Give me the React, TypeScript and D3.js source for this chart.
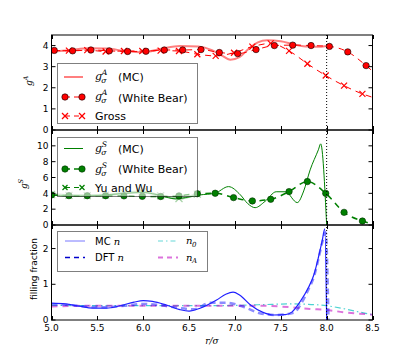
import * as d3 from "d3";

const W = 415;
const H = 356;

// r / sigma axis
const xTicks = [5.0, 5.5, 6.0, 6.5, 7.0, 7.5, 8.0, 8.5];

// top panel: g^A
const mcA: [number, number][] = [
  [5.0, 3.72], [5.2, 3.78], [5.4, 3.87], [5.6, 3.86], [5.8, 3.74], [6.0, 3.68], [6.2, 3.85],
  [6.4, 3.98], [6.6, 3.95], [6.75, 3.78], [6.85, 3.55], [6.95, 3.33], [7.05, 3.45], [7.15, 3.85],
  [7.25, 4.15], [7.35, 4.25], [7.5, 4.2], [7.65, 4.05], [7.8, 3.95], [7.9, 3.94], [8.0, 3.98],
];
const wbA: [number, number][] = [
  [5.03, 3.77], [5.23, 3.75], [5.43, 3.79], [5.63, 3.75], [5.83, 3.72], [6.03, 3.73], [6.23, 3.79],
  [6.43, 3.79], [6.63, 3.81], [6.83, 3.67], [7.03, 3.62], [7.23, 3.81], [7.43, 4.0], [7.63, 4.02],
  [7.83, 4.0], [8.03, 3.96], [8.23, 3.7], [8.43, 3.05],
];
const wbATail: [number, number][] = [[8.43, 3.05], [8.5, 2.79]];
const grossA: [number, number][] = [
  [5.19, 3.76], [5.39, 3.78], [5.59, 3.72], [5.79, 3.74], [5.99, 3.74], [6.19, 3.76], [6.39, 3.74],
  [6.59, 3.59], [6.79, 3.51], [6.99, 3.66], [7.19, 3.95], [7.39, 4.1], [7.59, 3.75], [7.79, 3.14],
  [7.99, 2.58], [8.19, 2.1], [8.39, 1.71],
];
const grossEnds: [number, number][] = [[5.0, 3.75], [8.5, 1.55]];

// middle panel: g^S
const mcS: [number, number][] = [
  [5.0, 3.8], [5.2, 3.65], [5.5, 3.72], [5.8, 4.0], [6.0, 4.1], [6.2, 3.7], [6.35, 3.3],
  [6.5, 3.55], [6.62, 3.8], [6.78, 4.0], [6.93, 4.85], [7.06, 3.8], [7.14, 2.7], [7.22, 2.19],
  [7.33, 3.0], [7.45, 4.2], [7.55, 4.2], [7.68, 2.83], [7.75, 4.3], [7.82, 6.96], [7.91, 9.5],
  [7.935, 10.25], [8.0, 0.0],
];
const wbS: [number, number][] = [
  [5.0, 3.8], [5.19, 3.71], [5.39, 3.7], [5.59, 3.7], [5.79, 3.68], [5.99, 3.62], [6.19, 3.6],
  [6.39, 3.68], [6.59, 3.95], [6.785, 4.01], [6.985, 3.46], [7.19, 3.04], [7.39, 3.25], [7.59, 4.22],
  [7.79, 5.49], [7.99, 4.0], [8.19, 1.6], [8.39, 0.5],
];
const wbSTail: [number, number][] = [[8.39, 0.5], [8.46, 0.25]];
const yuWu: [number, number][] = [
  [5.0, 3.85], [5.19, 3.75], [5.39, 3.72], [5.59, 3.78], [5.79, 4.05], [5.99, 4.2], [6.19, 3.7],
  [6.39, 3.35], [6.59, 3.9],
];

// bottom panel: filling fraction
const mcN: [number, number][] = [
  [5.0, 0.47], [5.15, 0.45], [5.3, 0.39], [5.45, 0.33], [5.6, 0.33], [5.75, 0.4], [5.9, 0.5],
  [6.0, 0.54], [6.1, 0.52], [6.25, 0.42], [6.4, 0.29], [6.5, 0.25], [6.62, 0.33], [6.8, 0.56],
  [6.9, 0.72], [6.98, 0.78], [7.05, 0.7], [7.17, 0.42], [7.3, 0.22], [7.42, 0.14], [7.55, 0.15],
  [7.62, 0.22], [7.71, 0.51], [7.8, 0.9], [7.86, 1.26], [7.91, 1.75], [7.95, 2.2], [7.98, 2.55],
  [8.0, 0.0],
];
const dftN: [number, number][] = [
  [5.0, 0.44], [5.2, 0.42], [5.4, 0.37], [5.6, 0.36], [5.8, 0.4], [6.0, 0.45], [6.2, 0.41],
  [6.4, 0.33], [6.55, 0.3], [6.73, 0.48], [6.91, 0.48], [7.09, 0.37], [7.27, 0.19], [7.45, 0.14],
  [7.64, 0.2], [7.72, 0.45], [7.8, 0.85], [7.86, 1.2], [7.91, 1.7], [7.95, 2.15], [7.99, 2.45],
  [8.02, 0.0],
];
const n0: [number, number][] = [
  [5.0, 0.41], [5.5, 0.4], [6.0, 0.4], [6.5, 0.4], [6.8, 0.4], [7.0, 0.41], [7.3, 0.43],
  [7.6, 0.45], [7.8, 0.44], [8.0, 0.4], [8.2, 0.31], [8.4, 0.2], [8.5, 0.15],
];
const nA: [number, number][] = [
  [5.0, 0.38], [5.5, 0.4], [6.0, 0.4], [6.5, 0.4], [7.0, 0.4], [7.24, 0.4], [7.6, 0.36],
  [7.82, 0.31], [8.0, 0.28], [8.18, 0.22], [8.5, 0.15],
];

const panels = [
  { top: 35, bottom: 130, max: 4.5, ticks: [0, 1, 2, 3, 4] },
  { top: 130, bottom: 225, max: 12, ticks: [0, 2, 4, 6, 8, 10] },
  { top: 225, bottom: 320, max: 2.66, ticks: [0, 1, 2] },
];

const FONT = "DejaVu Sans";
const MATH = "DejaVu Serif";

export default function App() {
  const x = d3.scaleLinear().domain([5.0, 8.5]).range([51.5, 372.5]);
  const ys = panels.map((p) => d3.scaleLinear().domain([0, p.max]).range([p.bottom, p.top]));
  const path = (data: [number, number][], yi: number) =>
    d3
      .line<[number, number]>()
      .x((d) => x(d[0]))
      .y((d) => ys[yi](d[1]))
      .curve(d3.curveMonotoneX)(data) || "";

  const cross = (cx: number, cy: number, s: number, color: string, key: string, op = 1) => (
    <g key={key} stroke={color} strokeWidth={1.2} opacity={op}>
      <line x1={cx - s} y1={cy - s} x2={cx + s} y2={cy + s} />
      <line x1={cx - s} y1={cy + s} x2={cx + s} y2={cy - s} />
    </g>
  );

  const gLabel = (x0: number, y0: number, sup: string, size: number) => (
    <g fontFamily={MATH} fontStyle="italic">
      <text x={x0} y={y0} fontSize={size}>g</text>
      <text x={x0 + 6.8} y={y0 - 5} fontSize={size * 0.7}>{sup}</text>
      <text x={x0 + 6.3} y={y0 + 3} fontSize={size * 0.7}>σ</text>
    </g>
  );

  const red = "#ff0000";
  const green = "#008000";

  return (
    <svg width={W} height={H} style={{ position: "absolute", left: 0, top: 0, background: "#fff" }}>
      <defs>
        {panels.map((p, i) => (
          <clipPath id={`clip${i}`} key={i}>
            <rect x={x(5.0)} y={p.top} width={x(8.5) - x(5.0)} height={p.bottom - p.top} />
          </clipPath>
        ))}
      </defs>

      {/* panel 1 data */}
      <g clipPath="url(#clip0)" fill="none">
        <path d={path(mcA, 0)} stroke={red} strokeOpacity={0.5} strokeWidth={2} />
        <path d={path([grossEnds[0], ...grossA, grossEnds[1]], 0)} stroke={red} strokeWidth={1} strokeDasharray="6,5" />
        <path d={path([...wbA, ...wbATail.slice(1)], 0)} stroke={red} strokeWidth={1} strokeDasharray="6,5" />
        {grossA.map((d, i) => cross(x(d[0]), ys[0](d[1]), 3, red, `ga${i}`))}
        {wbA.map((d, i) => (
          <circle key={i} cx={x(d[0])} cy={ys[0](d[1])} r={3.2} fill={red} stroke="#000" strokeWidth={0.6} />
        ))}
      </g>

      {/* panel 2 data */}
      <g clipPath="url(#clip1)" fill="none">
        <path d={path(yuWu, 1)} stroke={green} strokeOpacity={0.35} strokeWidth={2.5} />
        {yuWu.map((d, i) => cross(x(d[0]), ys[1](d[1]), 3.5, green, `yw${i}`, 0.35))}
        <path d={path(mcS, 1)} stroke={green} strokeWidth={1} />
        <path d={path([...wbS, ...wbSTail.slice(1)], 1)} stroke={green} strokeWidth={1.5} strokeDasharray="6,5" />
        {wbS.map((d, i) => (
          <circle key={i} cx={x(d[0])} cy={ys[1](d[1])} r={3.2} fill={green} stroke="#003000" strokeWidth={0.6} />
        ))}
      </g>

      {/* panel 3 data */}
      <g clipPath="url(#clip2)" fill="none">
        <path d={path(n0, 2)} stroke="#00bfbf" strokeOpacity={0.7} strokeWidth={1.2} strokeDasharray="6,3,1.5,3" />
        <path d={path(nA, 2)} stroke="#bf00bf" strokeOpacity={0.55} strokeWidth={2} strokeDasharray="6,5" />
        <path d={path(dftN, 2)} stroke="#0000ff" strokeOpacity={0.45} strokeWidth={2.5} strokeDasharray="6,4" />
        <path d={path(mcN, 2)} stroke="#2020ff" strokeWidth={1.2} />
      </g>

      {/* vertical dotted line at r = 8 */}
      <line x1={x(8.0)} x2={x(8.0)} y1={panels[0].top} y2={panels[2].bottom} stroke="#000" strokeWidth={1} strokeDasharray="1,2" />

      {/* frames, ticks */}
      {panels.map((p, i) => (
        <g key={`ax${i}`} stroke="#000" strokeWidth={1}>
          <rect x={x(5.0)} y={p.top} width={x(8.5) - x(5.0)} height={p.bottom - p.top} fill="none" />
          {xTicks.map((t) => (
            <g key={t}>
              <line x1={Math.round(x(t)) + 0.5} x2={Math.round(x(t)) + 0.5} y1={p.bottom} y2={p.bottom - 4} />
              <line x1={Math.round(x(t)) + 0.5} x2={Math.round(x(t)) + 0.5} y1={p.top} y2={p.top + 4} />
            </g>
          ))}
          {p.ticks.map((t) => (
            <g key={t}>
              <line x1={x(5.0)} x2={x(5.0) + 4} y1={ys[i](t)} y2={ys[i](t)} />
              <line x1={x(8.5)} x2={x(8.5) - 4} y1={ys[i](t)} y2={ys[i](t)} />
            </g>
          ))}
        </g>
      ))}

      {/* tick labels */}
      <g fontFamily={FONT} fontSize={9} fill="#000">
        {panels.map((p, i) =>
          p.ticks.map((t) => (
            <text key={`${i}-${t}`} x={48.5} y={ys[i](t) + 3.2} textAnchor="end">
              {t}
            </text>
          ))
        )}
        {xTicks.map((t) => (
          <text key={t} x={x(t)} y={331} textAnchor="middle">
            {t.toFixed(1)}
          </text>
        ))}
      </g>

      {/* axis labels */}
      <g fontFamily={MATH} fontStyle="italic" fontSize={9}>
        <g transform="translate(32,86) rotate(-90)">
          <text x={0} y={0}>g</text>
          <text x={5.5} y={-4} fontSize={6.5}>A</text>
        </g>
        <g transform="translate(27,189) rotate(-90)">
          <text x={0} y={0}>g</text>
          <text x={5.5} y={-4} fontSize={6.5}>S</text>
        </g>
      </g>
      <text transform="translate(37,269) rotate(-90)" fontFamily={FONT} fontSize={9} textAnchor="middle">
        filling fraction
      </text>
      <text x={212} y={344} fontFamily={MATH} fontStyle="italic" fontSize={9} textAnchor="middle">
        r/σ
      </text>

      {/* legend 1 */}
      <g>
        <rect x={57.5} y={63.5} width={140} height={60} fill="#fff" fillOpacity={0.55} stroke="#000" strokeOpacity={0.5} />
        <line x1={64} x2={83} y1={77} y2={77} stroke={red} strokeOpacity={0.5} strokeWidth={2} />
        <line x1={65} x2={82} y1={97} y2={97} stroke={red} strokeDasharray="5,4" />
        <circle cx={65} cy={97} r={3.2} fill={red} stroke="#000" strokeWidth={0.6} />
        <circle cx={82} cy={97} r={3.2} fill={red} stroke="#000" strokeWidth={0.6} />
        <line x1={65} x2={82} y1={116} y2={116} stroke={red} strokeDasharray="5,4" />
        {cross(65, 116, 3, red, "lg1")}
        {cross(82, 116, 3, red, "lg2")}
        {gLabel(95, 80, "A", 11)}
        {gLabel(95, 100, "A", 11)}
        <g fontFamily={FONT} fontSize={11}>
          <text x={118} y={81}>(MC)</text>
          <text x={118} y={101.5}>(White Bear)</text>
          <text x={95} y={120}>Gross</text>
        </g>
      </g>

      {/* legend 2 */}
      <g>
        <rect x={57.5} y={137.5} width={140} height={59} fill="#fff" fillOpacity={0.55} stroke="#000" strokeOpacity={0.5} />
        <line x1={64} x2={83} y1={148.5} y2={148.5} stroke={green} strokeWidth={1} />
        <line x1={65} x2={82} y1={169} y2={169} stroke={green} strokeWidth={1.5} strokeDasharray="5,4" />
        <circle cx={65} cy={169} r={3.2} fill={green} stroke="#003000" strokeWidth={0.6} />
        <circle cx={82} cy={169} r={3.2} fill={green} stroke="#003000" strokeWidth={0.6} />
        <line x1={65} x2={82} y1={187.5} y2={187.5} stroke={green} strokeDasharray="5,4" />
        {cross(65, 187.5, 2.5, green, "lg3")}
        {cross(82, 187.5, 2.5, green, "lg4")}
        {gLabel(95, 152, "S", 11)}
        {gLabel(95, 173, "S", 11)}
        <g fontFamily={FONT} fontSize={11}>
          <text x={118} y={152.5}>(MC)</text>
          <text x={118} y={173}>(White Bear)</text>
          <text x={95} y={191.5}>Yu and Wu</text>
        </g>
      </g>

      {/* legend 3 */}
      <g>
        <rect x={57.5} y={231.5} width={150} height={40} fill="#fff" fillOpacity={0.55} stroke="#000" strokeOpacity={0.5} />
        <line x1={65} x2={85} y1={241} y2={241} stroke="#2020ff" strokeOpacity={0.6} strokeWidth={1} />
        <line x1={65} x2={85} y1={257.5} y2={257.5} stroke="#0000cc" strokeWidth={1.3} strokeDasharray="5,4" />
        <line x1={158} x2={178} y1={241} y2={241} stroke="#00bfbf" strokeOpacity={0.6} strokeWidth={1.2} strokeDasharray="5,3,1.5,3" />
        <line x1={158} x2={178} y1={257.5} y2={257.5} stroke="#bf00bf" strokeOpacity={0.55} strokeWidth={2} strokeDasharray="5,4" />
        <g fontFamily={FONT} fontSize={10}>
          <text x={95} y={244.5}>
            MC <tspan fontFamily={MATH} fontStyle="italic">n</tspan>
          </text>
          <text x={95} y={261}>
            DFT <tspan fontFamily={MATH} fontStyle="italic">n</tspan>
          </text>
        </g>
        <g fontFamily={MATH} fontStyle="italic">
          <text x={186} y={244} fontSize={10}>n</text>
          <text x={192} y={246.5} fontSize={7}>0</text>
          <text x={186} y={260.5} fontSize={10}>n</text>
          <text x={192} y={263} fontSize={7}>A</text>
        </g>
      </g>
    </svg>
  );
}
